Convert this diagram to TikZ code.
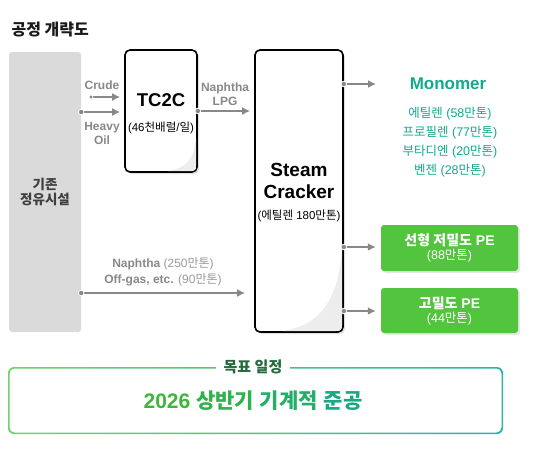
\documentclass[tikz,border=0pt]{standalone}
\usepackage{fontspec}
\setmainfont{Liberation Sans}
\newfontfamily\krfont{Noto Sans CJK KR}
\usetikzlibrary{arrows.meta,shadows}
\definecolor{flowgray}{HTML}{888888}
\definecolor{boxgray}{HTML}{DADADA}
\definecolor{pegreen}{HTML}{52C43E}
\definecolor{monoteal}{HTML}{14A88C}
\definecolor{framegreen}{HTML}{6DD46A}
\definecolor{frameteal}{HTML}{2BB3A6}
\definecolor{goaldark}{HTML}{236B3C}
\newcommand{\fs}[1]{\fontsize{#1}{#1}\selectfont}
\newcommand{\fss}[2]{\fontsize{#1}{#2}\selectfont}
\newcommand{\kr}[1]{{\krfont #1}}
\tikzset{
  flow/.style={draw=flowgray, line width=2.4pt, -{Latex[length=8pt,width=8pt]}},
  flowdot/.style={fill=flowgray, draw=white, line width=.8pt},
  unit/.style={draw=black, line width=1.6pt, rounded corners=5pt, fill=white,
    drop shadow={opacity=.25, shadow xshift=2pt, shadow yshift=-2pt}},
  product/.style={fill=pegreen, rounded corners=3pt, text=white, align=center,
    drop shadow={opacity=.2, shadow xshift=2pt, shadow yshift=-2pt}},
  flowlabel/.style={text=flowgray, font=\fss{12}{14}\bfseries, align=center}
}
\begin{document}
\begin{tikzpicture}[x=1pt, y=-1pt]
\useasboundingbox (0,0) rectangle (540,448);
% title
\node (title) [anchor=west, text=black!90, font=\fs{16}\bfseries] at (8,30) {\kr{공정 개략도}};
% refinery, TC2C and cracker
\node (refinery) [fill=boxgray, rounded corners=3pt, minimum width=72pt, minimum height=280pt,
  align=center, text=black!75, font=\fs{13.5}\bfseries] at (45,192) {\kr{기존}\\[2pt]\kr{정유시설}};
\node (tctc) [unit, minimum width=72pt, minimum height=122pt] at (161,111) {};
\fill[black!7] (196,138) .. controls (194,160) and (186,168) .. (168,171) -- (192,171) .. controls (195,171) and (196,170) .. (196,166) -- cycle;
\node (tctcname) [font=\fs{18.5}\bfseries] at (161,100) {TC2C};
\node (tctccap) [font=\fs{11.5}] at (161,128) {(46\kr{천배럴}/\kr{일})};
\node (cracker) [unit, minimum width=88pt, minimum height=282pt] at (299,191) {};
\fill[black!7] (342,250) .. controls (338,300) and (320,326) .. (282,331) -- (336,331) .. controls (340,331) and (342,329) .. (342,325) -- cycle;
\node (crackername) [font=\fss{19}{22}\bfseries, align=center] at (299,181) {Steam\\Cracker};
\node (crackercap) [font=\fs{11.5}] at (299,216) {(\kr{에틸렌} 180\kr{만톤})};
% products
\node (mono) [text=monoteal, font=\fs{17}\bfseries] at (448,84) {Monomer};
\node (monolist) [text=monoteal, font=\fss{12.5}{19}, align=center] at (450,142)
  {\kr{에틸렌} (58\kr{만톤})\\\kr{프로필렌} (77\kr{만톤})\\\kr{부타디엔} (20\kr{만톤})\\\kr{벤젠} (28\kr{만톤})};
\node (lldpe) [product, minimum width=137pt, minimum height=46pt] at (449.5,248)
  {{\fs{14}\bfseries\kr{선형 저밀도} PE}\\[2pt]{\fs{12.5}(88\kr{만톤})}};
\node (hdpe) [product, minimum width=137pt, minimum height=45pt] at (449.5,310.5)
  {{\fs{14}\bfseries\kr{고밀도} PE}\\[2pt]{\fs{12.5}(44\kr{만톤})}};
% flows
\coordinate (crude) at (91,97);
\draw[flow, shorten >=4pt] (crude) -- (tctc.west |- crude);
\fill[flowdot] (crude) circle (2pt);
\node (crudelabel) [flowlabel] at (102,85) {Crude};
\draw[flow, shorten >=4pt] (refinery.east |- 0,112) -- (tctc.west |- 0,112);
\fill[flowdot] (refinery.east |- 0,112) circle (2.8pt);
\node (heavylabel) [flowlabel] at (102,133) {Heavy\\Oil};
\draw[flow, shorten >=4pt] (tctc.east |- 0,111) -- (cracker.west |- 0,111);
\fill[flowdot] (tctc.east |- 0,111) circle (2.8pt);
\node (lpglabel) [flowlabel] at (225,94) {Naphtha\\LPG};
\draw[flow, shorten >=9pt] (refinery.east |- 0,293) -- (cracker.west |- 0,293);
\fill[flowdot] (refinery.east |- 0,293) circle (2.8pt);
\node (feedlabel) [flowlabel, font=\fss{12}{16}\bfseries] at (163,272)
  {Naphtha {\mdseries\color{black!40}(250\kr{만톤})}\\Off-gas, etc. {\mdseries\color{black!40}(90\kr{만톤})}};
\coordinate (monoin) at (376,84);
\draw[flow] (cracker.east |- monoin) -- (monoin);
\fill[flowdot] (cracker.east |- monoin) circle (2.8pt);
\draw[flow, shorten >=5pt] (cracker.east |- 0,247) -- (lldpe.west |- 0,247);
\fill[flowdot] (cracker.east |- 0,247) circle (2.8pt);
\draw[flow, shorten >=5pt] (cracker.east |- 0,311) -- (hdpe.west |- 0,311);
\fill[flowdot] (cracker.east |- 0,311) circle (2.8pt);
% goal box
\shade[left color=framegreen, right color=frameteal, even odd rule]
  [rounded corners=6pt] (8,367) rectangle (503,434)
  [rounded corners=5pt] (9.5,368.5) rectangle (501.5,432.5);
\node (goaltitle) [fill=white, inner xsep=8pt, text=goaldark, font=\fs{15}\bfseries] at (253,367) {\kr{목표 일정}};
\node (goal) [font=\fs{21}\bfseries] at (253,401)
  {\textcolor[HTML]{3CB73A}{2026} \textcolor[HTML]{30B24E}{\kr{상반기}} \textcolor[HTML]{24AE68}{\kr{기계적}} \textcolor[HTML]{18A983}{\kr{준공}}};
\end{tikzpicture}
\end{document}
